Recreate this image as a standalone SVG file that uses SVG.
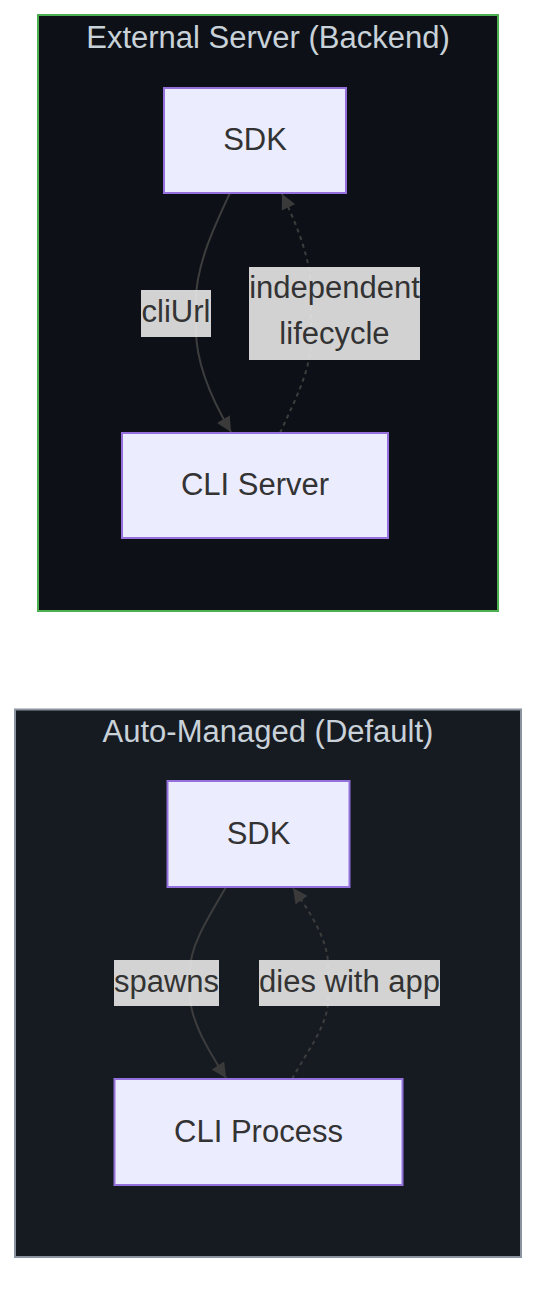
<svg xmlns="http://www.w3.org/2000/svg" width="552" height="1308" viewBox="0 0 552 1308">
<style>
  .t { font-family: "Liberation Sans", Arial, sans-serif; font-size: 31px; text-anchor: middle; }
  .title { fill: #c9d1d9; }
  .node rect { fill: #ECECFF; stroke: #9370DB; stroke-width: 2; }
  .node text { fill: #333333; }
  .edge { fill: none; stroke: #3d3d3d; stroke-width: 2; }
  .dotted { stroke-dasharray: 4 4; }
  .lbl rect { fill: #e8e8e8; fill-opacity: 0.9; }
  .lbl text { fill: #333333; }
</style>
<defs>
  <marker id="arrow" viewBox="0 0 10 10" refX="10" refY="5" markerWidth="15" markerHeight="15" markerUnits="userSpaceOnUse" orient="auto">
    <path d="M0,0 L10,5 L0,10 z" fill="#3a3a3a"/>
  </marker>
</defs>
<rect width="552" height="1308" fill="#ffffff"/>

<g id="cluster-external">
  <rect x="38" y="15" width="460" height="596" fill="#0d1117" stroke="#4caf50" stroke-width="2"/>
  <text class="t title" x="268" y="47.5">External Server (Backend)</text>
</g>
<g id="cluster-auto">
  <rect x="15" y="709.5" width="506" height="547.5" fill="#161b22" stroke="#8b949e" stroke-width="2"/>
  <text class="t title" x="268" y="742">Auto-Managed (Default)</text>
</g>

<g id="connectors">
  <path class="edge" d="M230,193 C215,225 196,265 196,300 L196,330 C196,365 212,400 231,432" marker-end="url(#arrow)"/>
  <path class="edge dotted" d="M280,433 C295,400 311,370 311,340 L311,290 C311,260 297,225 282,194" marker-end="url(#arrow)"/>
  <path class="edge" d="M226,887 C210,915 190,945 190,970 L190,995 C190,1020 208,1050 226,1078" marker-end="url(#arrow)"/>
  <path class="edge dotted" d="M292,1079 C308,1050 328,1025 328,1000 L328,965 C328,940 310,912 293,888" marker-end="url(#arrow)"/>
  <g class="lbl">
    <rect x="141" y="290" width="70" height="47"/>
    <text class="t" x="176" y="322">cliUrl</text>
  </g>
  <g class="lbl">
    <rect x="249" y="267" width="171" height="93"/>
    <text class="t" x="334.5" y="297.5">independent</text>
    <text class="t" x="334.5" y="344">lifecycle</text>
  </g>
  <g class="lbl">
    <rect x="114" y="960" width="105" height="46"/>
    <text class="t" x="166.5" y="991.5">spawns</text>
  </g>
  <g class="lbl">
    <rect x="259" y="960" width="181" height="46"/>
    <text class="t" x="349.5" y="991.5">dies with app</text>
  </g>
</g>

<g id="node-sdk-external" class="node">
  <rect x="164" y="88" width="182" height="105"/>
  <text class="t" x="255" y="150">SDK</text>
</g>
<g id="node-cli-server" class="node">
  <rect x="122" y="433" width="266" height="105"/>
  <text class="t" x="255" y="495">CLI Server</text>
</g>
<g id="node-sdk-auto" class="node">
  <rect x="167.5" y="781" width="182" height="106"/>
  <text class="t" x="258.5" y="843.5">SDK</text>
</g>
<g id="node-cli-process" class="node">
  <rect x="114.5" y="1079" width="288" height="106"/>
  <text class="t" x="258.5" y="1141.5">CLI Process</text>
</g>
</svg>
